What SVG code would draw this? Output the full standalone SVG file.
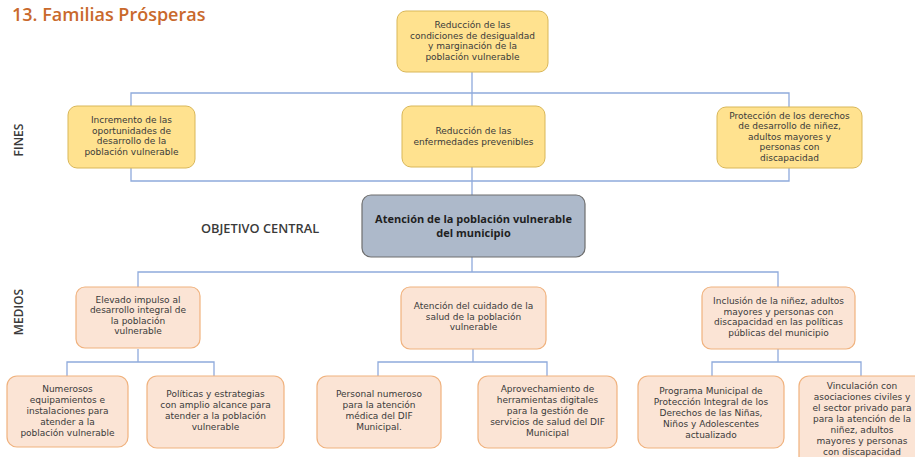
<svg xmlns="http://www.w3.org/2000/svg" width="915" height="457" viewBox="0 0 915 457">
<style>
.fin{fill:#ffe28f;stroke:#d9b759;stroke-width:1}
.med{fill:#fbe4d5;stroke:#f0b27e;stroke-width:1.2}
.cen{fill:#adb9ca;stroke:#6e6e6e;stroke-width:1.2}
.t{font-family:"DejaVu Sans","Noto Sans",sans-serif;font-size:9px;fill:#3a3a3a;text-anchor:middle}
.tb{font-family:"Open Sans","Noto Sans",sans-serif;font-size:11px;font-weight:700;fill:#1f1f1f;text-anchor:middle}
.lbl{font-family:"Open Sans","Noto Sans",sans-serif;font-size:12px;font-weight:600;fill:#3a3a3a}
.c{fill:none;stroke:#8faadc;stroke-width:1.3}
</style>
<rect width="915" height="457" fill="#ffffff"/>
<text x="12" y="21" font-family="Open Sans, Noto Sans, sans-serif" font-size="18" font-weight="600" fill="#c9692c">13. Familias Prósperas</text>
<text class="lbl" x="201" y="233" style="font-size:12.8px">OBJETIVO CENTRAL</text>
<text class="lbl" transform="translate(23,140) rotate(-90)" text-anchor="middle">FINES</text>
<text class="lbl" transform="translate(23,312) rotate(-90)" text-anchor="middle">MEDIOS</text>
<g id="connectors">
<path class="c" d="M472 72V106M131 106V93H789V107M131 168V181H789V168M472 167V195M472 257V272M138 287V272H778V287"/>
<path class="c" d="M138 349V362M67 376V362H214V376"/>
<path class="c" d="M473 349V362M378 376V362H547V376"/>
<path class="c" d="M778 349V362M712 376V362H861V376"/>
</g>
<g id="fin-top"><rect class="fin" x="397" y="11" width="151" height="61" rx="9"/>
<text class="t" x="472.5" y="28">Reducción de las</text><text class="t" x="472.5" y="38.5">condiciones de desigualdad</text><text class="t" x="472.5" y="49">y marginación de la</text><text class="t" x="472.5" y="59.5">población vulnerable</text></g>
<g id="fin-1"><rect class="fin" x="68" y="106" width="127" height="62" rx="9"/>
<text class="t" x="131.5" y="123">Incremento de las</text><text class="t" x="131.5" y="133.5">oportunidades de</text><text class="t" x="131.5" y="144">desarrollo de la</text><text class="t" x="131.5" y="154.5">población vulnerable</text></g>
<g id="fin-2"><rect class="fin" x="402" y="106" width="143" height="61" rx="9"/>
<text class="t" x="473.5" y="134">Reducción de las</text><text class="t" x="473.5" y="144.5">enfermedades prevenibles</text></g>
<g id="fin-3"><rect class="fin" x="717" y="107" width="145" height="61" rx="9"/>
<text class="t" x="789.5" y="118.5">Protección de los derechos</text><text class="t" x="789.5" y="129">de desarrollo de niñez,</text><text class="t" x="789.5" y="139.5">adultos mayores y</text><text class="t" x="789.5" y="150">personas con</text><text class="t" x="789.5" y="160.5">discapacidad</text></g>
<g id="central"><rect class="cen" x="362" y="195" width="223" height="62" rx="9"/>
<text class="tb" x="473.5" y="223">Atención de la población vulnerable</text><text class="tb" x="473.5" y="237">del municipio</text></g>
<g id="medio-1"><rect class="med" x="76" y="287" width="124" height="61" rx="9"/>
<text class="t" x="138" y="302.5">Elevado impulso al</text><text class="t" x="138" y="313">desarrollo integral de</text><text class="t" x="138" y="323.5">la población</text><text class="t" x="138" y="334">vulnerable</text></g>
<g id="medio-2"><rect class="med" x="401" y="287" width="145" height="62" rx="9"/>
<text class="t" x="473.5" y="309">Atención del cuidado de la</text><text class="t" x="473.5" y="319.5">salud de la población</text><text class="t" x="473.5" y="330">vulnerable</text></g>
<g id="medio-3"><rect class="med" x="702" y="287" width="153" height="62" rx="9"/>
<text class="t" x="778.5" y="304">Inclusión de la niñez, adultos</text><text class="t" x="778.5" y="314.5">mayores y personas con</text><text class="t" x="778.5" y="325">discapacidad en las políticas</text><text class="t" x="778.5" y="335.5">públicas del municipio</text></g>
<g id="accion-1"><rect class="med" x="7" y="376" width="121" height="71" rx="10"/>
<text class="t" x="67.5" y="392">Numerosos</text><text class="t" x="67.5" y="403">equipamientos e</text><text class="t" x="67.5" y="414">instalaciones para</text><text class="t" x="67.5" y="425">atender a la</text><text class="t" x="67.5" y="436">población vulnerable</text></g>
<g id="accion-2"><rect class="med" x="147" y="376" width="137" height="72" rx="10"/>
<text class="t" x="215.5" y="397">Políticas y estrategias</text><text class="t" x="215.5" y="408">con amplio alcance para</text><text class="t" x="215.5" y="419">atender a la población</text><text class="t" x="215.5" y="430">vulnerable</text></g>
<g id="accion-3"><rect class="med" x="317" y="376" width="124" height="72" rx="10"/>
<text class="t" x="379" y="397">Personal numeroso</text><text class="t" x="379" y="408">para la atención</text><text class="t" x="379" y="419">médica del DIF</text><text class="t" x="379" y="430">Municipal.</text></g>
<g id="accion-4"><rect class="med" x="478" y="376" width="139" height="72" rx="10"/>
<text class="t" x="547.5" y="392">Aprovechamiento de</text><text class="t" x="547.5" y="403">herramientas digitales</text><text class="t" x="547.5" y="414">para la gestión de</text><text class="t" x="547.5" y="425">servicios de salud del DIF</text><text class="t" x="547.5" y="436">Municipal</text></g>
<g id="accion-5"><rect class="med" x="638" y="376" width="146" height="72" rx="10"/>
<text class="t" x="711" y="394">Programa Municipal de</text><text class="t" x="711" y="405">Protección Integral de los</text><text class="t" x="711" y="416">Derechos de las Niñas,</text><text class="t" x="711" y="427">Niños y Adolescentes</text><text class="t" x="711" y="438">actualizado</text></g>
<g id="accion-6"><rect class="med" x="799" y="376" width="126" height="90" rx="10"/>
<text class="t" x="862" y="389">Vinculación con</text><text class="t" x="862" y="400">asociaciones civiles y</text><text class="t" x="862" y="411">el sector privado para</text><text class="t" x="862" y="422">para la atención de la</text><text class="t" x="862" y="433">niñez, adultos</text><text class="t" x="862" y="444">mayores y personas</text><text class="t" x="862" y="455">con discapacidad</text></g>
</svg>
